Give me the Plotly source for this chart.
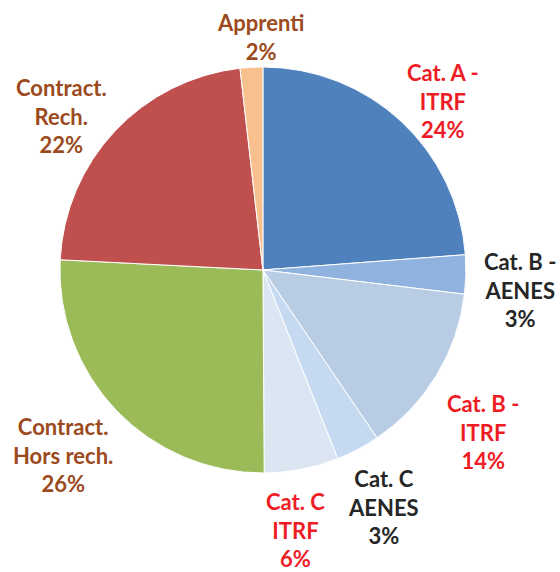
import plotly.graph_objs as go

# slices, clockwise from 12 o'clock
labels = ['Cat. A - ITRF', 'Cat. B - AENES', 'Cat. B - ITRF', 'Cat. C AENES',
          'Cat. C ITRF', 'Contract. Hors rech.', 'Contract. Rech.', 'Apprenti']
values = [23.8, 3.1, 13.6, 3.5, 5.9, 25.9, 22.4, 1.8]
shown_pct = ['24%', '3%', '14%', '3%', '6%', '26%', '22%', '2%']
label_lines = ['Cat. A -<br>ITRF', 'Cat. B -<br>AENES', 'Cat. B -<br>ITRF', 'Cat. C<br>AENES',
               'Cat. C<br>ITRF', 'Contract.<br>Hors rech.', 'Contract.<br>Rech.', 'Apprenti']

slice_colors = ['#4F81BD', '#8FB3DE', '#B8CCE4', '#C5D9F0', '#DCE6F2',
                '#9BBB59', '#C0504D', '#F9C08F']
RED, DARK, BROWN = '#EE1C25', '#262626', '#9C4A20'
text_colors = [RED, DARK, RED, DARK, RED, BROWN, BROWN, BROWN]
# label block centres (paper coords)
label_pos = [(0.791, 0.823), (0.929, 0.493), (0.8625, 0.245), (0.684, 0.114),
             (0.527, 0.073), (0.1125, 0.205), (0.109, 0.797), (0.465, 0.935)]

pie = go.Pie(
    labels=labels,
    values=values,
    sort=False,
    direction='clockwise',
    rotation=0,
    textinfo='none',
    hoverinfo='label+percent',
    marker=dict(colors=slice_colors, line=dict(color='white', width=1)),
    domain=dict(x=[0.107, 0.832], y=[0.173, 0.883]),
    showlegend=False,
)

annotations = []
for name, pct, col, (x, y) in zip(label_lines, shown_pct, text_colors, label_pos):
    annotations.append(dict(
        text='<b>%s<br>%s</b>' % (name, pct),
        x=x, y=y, xref='paper', yref='paper',
        xanchor='center', yanchor='middle',
        showarrow=False,
        font=dict(family='Lato', size=22, color=col),
    ))

layout = go.Layout(
    width=560, height=572,
    margin=dict(l=0, r=0, t=0, b=0),
    paper_bgcolor='white',
    plot_bgcolor='white',
    annotations=annotations,
)

fig = go.Figure(data=[pie], layout=layout)
# drop the page's default body margin so the figure sits at the window corner
fig.write_html("out.html", config={'displayModeBar': False},
               post_script="document.body.style.margin='0';")
